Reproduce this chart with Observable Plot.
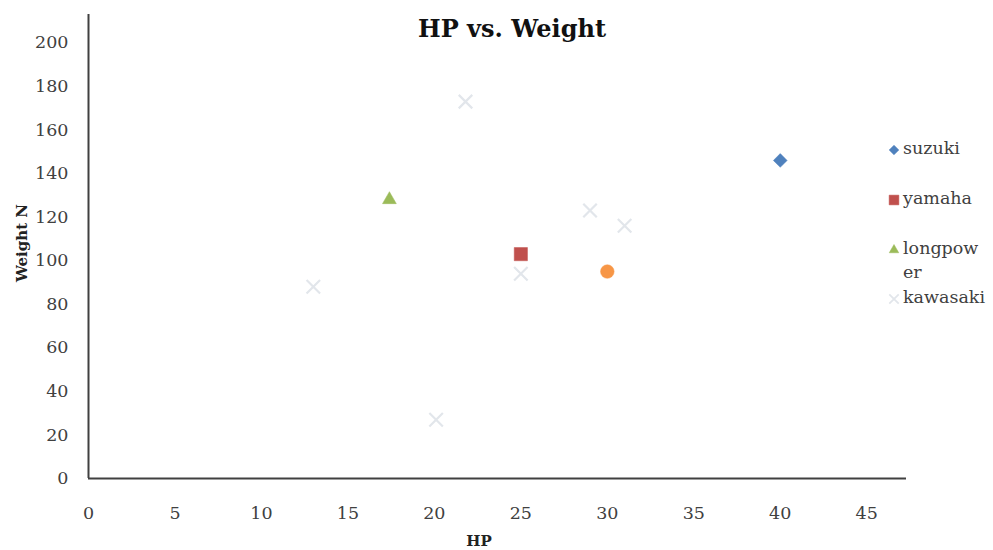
<!DOCTYPE html>
<html>
<head>
<meta charset="utf-8">
<script src="https://cdn.jsdelivr.net/npm/d3@7"></script>
<script src="https://cdn.jsdelivr.net/npm/@observablehq/plot@0.6"></script>
<style>
  body { margin: 0; background: #fff; }
  #wrap { position: relative; width: 993px; height: 550px; font-family: "DejaVu Serif", serif; }
  #wrap svg.plot { position: absolute; left: 0; top: 0; }
  .lbl { position: absolute; white-space: nowrap; }
</style>
</head>
<body>
<div id="wrap"></div>
<script>
// ---- data ----
const titleText = "HP vs. Weight";
const xLabel = "HP";
const yLabel = "Weight N";
const xTicks = [0, 5, 10, 15, 20, 25, 30, 35, 40, 45];
const yTicks = [0, 20, 40, 60, 80, 100, 120, 140, 160, 180, 200];

const suzukiHP = [40];
const suzukiW = [146];
const yamahaHP = [25];
const yamahaW = [103];
const longpowerHP = [17.4];
const longpowerW = [128];
const otherHP = [30];
const otherW = [95];
const kawasakiHP = [21.8, 29, 31, 13, 25, 20.1];
const kawasakiW = [173, 123, 116, 88, 94, 27];

const legendNames = ["suzuki", "yamaha", "longpow\ner", "kawasaki"];

// ---- build ----
const symMap = {diamond: d3.symbolDiamond2, square: d3.symbolSquare2, triangle: d3.symbolTriangle2, circle: d3.symbolCircle, times: d3.symbolTimes};
const series = [
  {name: "suzuki", hp: suzukiHP, w: suzukiW, symbol: "diamond", color: "#4f81bd", r: 6.2},
  {name: "yamaha", hp: yamahaHP, w: yamahaW, symbol: "square", color: "#c0504d", r: 8.4},
  {name: "longpower", hp: longpowerHP, w: longpowerW, symbol: "triangle", color: "#9bbb59", r: 6.6},
  {name: "other", hp: otherHP, w: otherW, symbol: "circle", color: "#f79646", r: 6.8},
  {name: "kawasaki", hp: kawasakiHP, w: kawasakiW, symbol: "times", color: "#e2e6eb", r: 6.2}
];

const marks = [
  Plot.axisY(yTicks, {tickSize: 0, tickPadding: 20, fontSize: 17.5, fill: "#404040", label: null}),
  Plot.axisX(xTicks, {tickSize: 0, tickPadding: 28, fontSize: 17.5, fill: "#404040", label: null}),
  Plot.ruleX([0], {stroke: "#404040", strokeWidth: 2}),
  Plot.ruleY([0], {stroke: "#404040", strokeWidth: 2})
];
for (const s of series) {
  const data = s.hp.map((h, i) => ({hp: h, w: s.w[i]}));
  const filled = s.symbol !== "times";
  marks.push(Plot.dot(data, {
    x: "hp", y: "w", symbol: symMap[s.symbol], r: s.r,
    fill: filled ? s.color : "none",
    stroke: s.color, strokeWidth: filled ? 0.5 : 2.2
  }));
}

const chart = Plot.plot({
  width: 993, height: 550,
  marginLeft: 88, marginRight: 87, marginTop: 14, marginBottom: 72,
  style: {fontFamily: "DejaVu Serif, serif", background: "white"},
  x: {domain: [0, 47.3], label: null},
  y: {domain: [0, 213], label: null},
  marks
});
chart.classList.add("plot");
const wrap = document.getElementById("wrap");
wrap.appendChild(chart);

function addLabel(text, css) {
  const d = document.createElement("div");
  d.className = "lbl";
  d.textContent = text;
  Object.assign(d.style, css);
  wrap.appendChild(d);
  return d;
}
addLabel(titleText, {left: "512px", top: "14px", transform: "translateX(-50%)", fontSize: "24px", fontWeight: "bold", color: "#111"});
addLabel(xLabel, {left: "479px", top: "532px", transform: "translateX(-50%)", fontSize: "15px", fontWeight: "bold", color: "#222"});
addLabel(yLabel, {left: "22px", top: "243px", transform: "translate(-50%,-50%) rotate(-90deg)", fontSize: "15px", fontWeight: "bold", color: "#222"});

// legend
const legendTops = [150, 200, 250, 299];
const legendSeries = [series[0], series[1], series[2], series[4]];
legendNames.forEach((name, i) => {
  const s = legendSeries[i];
  const top = legendTops[i];
  const svg = d3.create("svg").attr("width", 18).attr("height", 18)
    .style("position", "absolute").style("left", "885px").style("top", (top - 9) + "px");
  const size = {diamond: 60, square: 120, triangle: 65, times: 60}[s.symbol];
  svg.append("path").attr("transform", "translate(9,9)")
    .attr("d", d3.symbol(symMap[s.symbol], size)())
    .attr("fill", s.symbol === "times" ? "none" : s.color)
    .attr("stroke", s.color).attr("stroke-width", s.symbol === "times" ? 1.8 : 0.5);
  wrap.appendChild(svg.node());
  const parts = name.split("\n");
  parts.forEach((p, j) => {
    addLabel(p, {left: "903px", top: (top - 12 + j * 24) + "px", fontSize: "17.5px", color: "#404040"});
  });
});
</script>
</body>
</html>
